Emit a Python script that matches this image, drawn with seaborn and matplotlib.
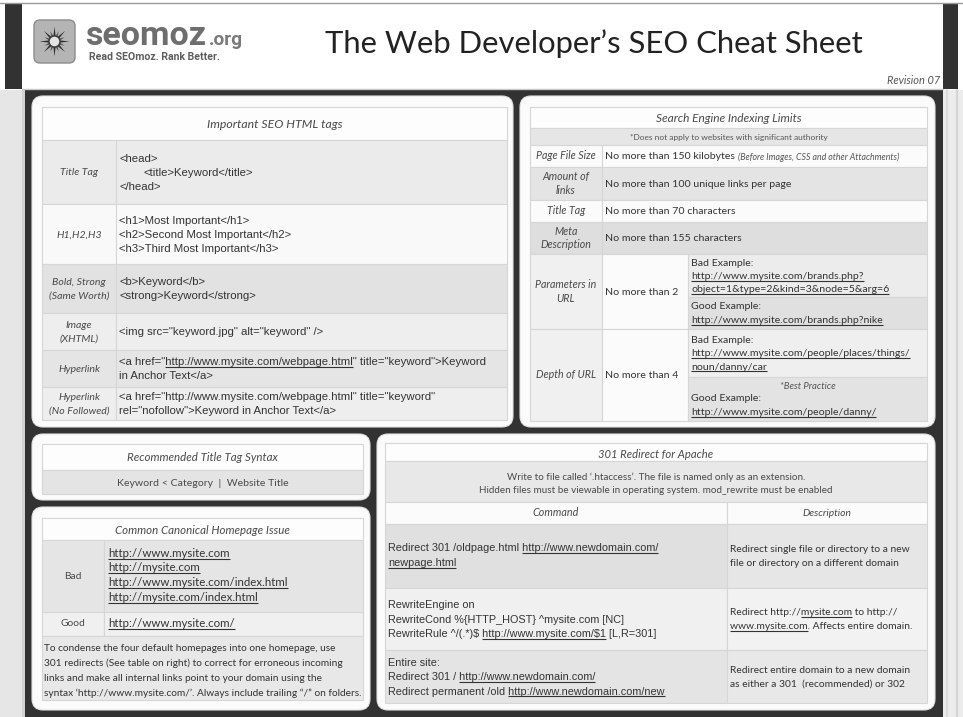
import matplotlib
matplotlib.use("Agg")
import matplotlib.pyplot as plt
from matplotlib.patches import Rectangle, FancyBboxPatch, Polygon, Circle
import numpy as np
import seaborn as sns

W, H = 963, 717

# ---------------- text content ("~" toggles underline) ----------------
page_title = "The Web Developer\u2019s SEO Cheat Sheet"
brand = "seomoz"
brand_tld = ".org"
brand_tagline = "Read SEOmoz. Rank Better."
revision = "Revision 07"

html_tags_title = "Important SEO HTML tags"
html_tag_labels = ["Title Tag", "H1,H2,H3", "Bold, Strong\n(Same Worth)",
                   "Image\n(XHTML)", "Hyperlink", "Hyperlink\n(No Followed)"]
html_tag_code = [
    ["<head>", "\t<title>Keyword</title>", "</head>"],
    ["<h1>Most Important</h1>", "<h2>Second Most Important</h2>",
     "<h3>Third Most Important</h3>"],
    ["<b>Keyword</b>", "<strong>Keyword</strong>"],
    ['<img src="keyword.jpg" alt="keyword" />'],
    ['<a href="~http://www.mysite.com/webpage.html~" title="keyword">Keyword',
     "in Anchor Text</a>"],
    ['<a href="http://www.mysite.com/webpage.html" title="keyword"',
     'rel="nofollow">Keyword in Anchor Text</a>'],
]

index_title = "Search Engine Indexing Limits"
index_note = "*Does not apply to websites with significant authority"
index_labels = ["Page File Size", "Amount of\nlinks", "Title Tag",
                "Meta\nDescription", "Parameters in\nURL", "Depth of URL"]
index_limits = ["No more than 150 kilobytes", "No more than 100 unique links per page",
                "No more than 70 characters", "No more than 155 characters",
                "No more than 2", "No more than 4"]
page_size_note = "(Before Images, CSS and other Attachments)"
param_bad = ["Bad Example:", "~http://www.mysite.com/brands.php?~",
             "~object=1&type=2&kind=3&node=5&arg=6~"]
param_good = ["Good Example:", "~http://www.mysite.com/brands.php?nike~"]
depth_bad = ["Bad Example:", "~http://www.mysite.com/people/places/things/~",
             "~noun/danny/car~"]
depth_good = ["Good Example:", "~http://www.mysite.com/people/danny/~"]
best_practice = "*Best Practice"

syntax_title = "Recommended Title Tag Syntax"
syntax_body = "Keyword < Category  |  Website Title"

canon_title = "Common Canonical Homepage Issue"
canon_bad = ["~http://www.mysite.com~", "~http://mysite.com~",
             "~http://www.mysite.com/index.html~", "~http://mysite.com/index.html~"]
canon_good = ["~http://www.mysite.com/~"]
canon_text = ["To condense the four default homepages into one homepage, use",
              "301 redirects (See table on right) to correct for erroneous incoming",
              "links and make all internal links point to your domain using the",
              "syntax \u2018http://www.mysite.com/\u2019. Always include trailing \u201c/\u201d on folders."]

redirect_title = "301 Redirect for Apache"
redirect_note = ["Write to file called \u2018.htaccess\u2019. The file is named only as an extension.",
                 "Hidden files must be viewable in operating system. mod_rewrite must be enabled"]
redirect_cols = ["Command", "Description"]
redirect_cmds = [
    ["Redirect 301 /oldpage.html ~http://www.newdomain.com/~", "~newpage.html~"],
    ["RewriteEngine on", "RewriteCond %{HTTP_HOST} ^mysite.com [NC]",
     "RewriteRule ^/(.*)$ ~http://www.mysite.com/$1~ [L,R=301]"],
    ["Entire site:", "Redirect 301 / ~http://www.newdomain.com/~",
     "Redirect permanent /old ~http://www.newdomain.com/new~"],
]
redirect_desc = [
    ["Redirect single file or directory to a new", "file or directory on a different domain"],
    ["Redirect http://~mysite.com~ to http://", "~www.mysite.com~. Affects entire domain."],
    ["Redirect entire domain to a new domain", "as either a 301  (recommended) or 302"],
]

# ---------------- style ----------------
sns.set_theme(style="white")
plt.rcParams["font.family"] = ["Lato", "DejaVu Sans"]

DARK = "#323232"
PANEL = "#fbfbfb"
GRID = "#d6d6d6"
INK = "#333333"
SOFT = "#4a4a4a"
CODE = "Liberation Sans"
GILL = "Lato"
PX = 0.72  # pixel size -> points at 100 dpi

fig = plt.figure(figsize=(W / 100, H / 100), dpi=100)
ax = fig.add_axes([0, 0, 1, 1])
ax.set_xlim(0, W)
ax.set_ylim(H, 0)
ax.axis("off")
renderer = fig.canvas.get_renderer()


def txt(x, y, s, size, family=GILL, style="normal", ha="left", va="baseline",
        color=INK, weight="normal"):
    return ax.text(x, y, s, fontsize=size * PX, family=family, style=style, ha=ha,
                   va=va, color=color, weight=weight, parse_math=False)


def adv(s, size, family, style):
    a = txt(0, 0, s + "|", size, family, style)
    b = txt(0, 0, "|", size, family, style)
    w = a.get_window_extent(renderer).width - b.get_window_extent(renderer).width
    a.remove()
    b.remove()
    return w


def rich(x, y, line, size, family=CODE, style="normal", color=INK, ha="left"):
    indent = 0
    if line.startswith("\t"):
        indent = 24
        line = line[1:]
    parts = line.split("~")
    plain = "".join(parts)
    if ha == "center":
        x = x - adv(plain, size, family, style) / 2
    x += indent
    txt(x, y, plain, size, family, style, color=color)
    prefix = ""
    for i, p in enumerate(parts):
        if i % 2 == 1 and p:
            x0 = x + adv(prefix, size, family, style)
            x1 = x + adv(prefix + p, size, family, style)
            ax.plot([x0, x1], [y + 1.8, y + 1.8], color=color, lw=0.8,
                    solid_capstyle="butt")
        prefix += p


def block(x, yc, lines, size, gap, family=CODE, style="normal", color=INK, ha="left"):
    if isinstance(lines, str):
        lines = lines.split("\n")
    n = len(lines)
    for i, ln in enumerate(lines):
        y = yc - (n - 1) * gap / 2 + i * gap + 0.33 * size
        rich(x, y, ln, size, family, style, color, ha)


def cell(x0, y0, x1, y1, color):
    ax.add_patch(Rectangle((x0, y0), x1 - x0, y1 - y0, fc=color, ec=GRID, lw=0.8))


def panel(x0, y0, x1, y1):
    ax.add_patch(FancyBboxPatch((x0, y0), x1 - x0, y1 - y0,
                                boxstyle="round,pad=0,rounding_size=11",
                                fc=PANEL, ec="#e2e2e2", lw=0.8))


# ---------------- page background ----------------
ax.add_patch(Rectangle((0, 0), W, H, fc="white", ec="none"))
ax.add_patch(Rectangle((25, 89.5), 918, H - 89.5, fc=DARK, ec="none"))
ax.add_patch(Rectangle((0, 89.5), 22, H - 89.5, fc="#e6e6e6", ec="none"))
ax.add_patch(Rectangle((22, 89.5), 3, H - 89.5, fc="#d2d2d2", ec="none"))
ax.add_patch(Rectangle((943, 89.5), 20, H - 89.5, fc="#ececec", ec="none"))
for xs, c in [(947, "#dcdcdc"), (957, "#d4d4d4")]:
    ax.plot([xs, xs], [90, H], color=c, lw=1.5)
ax.plot([0, W], [2.5, 2.5], color="#9a9a9a", lw=1)
ax.add_patch(Rectangle((5, 3), 17, 85.5, fc=DARK, ec="none"))
ax.add_patch(Rectangle((943, 3), 15, 85.5, fc=DARK, ec="none"))
ax.plot([22, 943], [88.5, 88.5], color="#c8c8c8", lw=1)

# ---------------- header ----------------
ax.add_patch(FancyBboxPatch((34, 20), 41, 43, boxstyle="round,pad=0,rounding_size=6",
                            fc="#b4b4b4", ec="#8c8c8c", lw=1))
cx, cy = 54.5, 41.5
for k in range(16):
    a0 = 2 * np.pi * k / 16
    a1 = a0 + np.pi / 16
    a2 = a0 - np.pi / 16
    r_in, r_out = 5.5, 15 if k % 2 == 0 else 11
    pts = [(cx + r_in * np.cos(a1), cy + r_in * np.sin(a1)),
           (cx + r_out * np.cos(a0), cy + r_out * np.sin(a0)),
           (cx + r_in * np.cos(a2), cy + r_in * np.sin(a2))]
    ax.add_patch(Polygon(pts, closed=True, fc="#2e2e2e" if k % 2 == 0 else "#5a5a5a",
                         ec="none"))
ax.add_patch(Circle((cx, cy), 5.5, fc="#e4e4e4", ec="#3a3a3a", lw=1))

txt(85, 45, brand, 34, family="Roboto", weight="bold", color="#6e6e6e")
txt(209, 45, brand_tld, 19, family="Roboto", weight="bold", color="#7a7a7a")
txt(89, 60, brand_tagline, 10.5, family="Roboto", weight="bold", color="#5e5e5e")
txt(325, 53, page_title, 31, family=GILL, color="#222222")
txt(940, 84, revision, 11, family=GILL, style="italic", ha="right", color="#555555")

# ---------------- panel 1: important SEO HTML tags ----------------
panel(32, 96, 513, 427)
t1_x0, t1_xm, t1_x1 = 42, 116, 507
cell(t1_x0, 107, t1_x1, 140, "#fdfdfd")
txt((t1_x0 + t1_x1) / 2, 128, html_tags_title, 12.3, style="italic", ha="center", color=SOFT)
rows1 = [140, 204, 264, 313, 350, 387, 420]
fills1 = ["#ebebeb", "#f9f9f9", "#e2e2e2", "#eeeeee", "#e5e5e5", "#eeeeee"]
for i, (lab, code) in enumerate(zip(html_tag_labels, html_tag_code)):
    ya, yb = rows1[i], rows1[i + 1]
    cell(t1_x0, ya, t1_xm, yb, fills1[i])
    cell(t1_xm, ya, t1_x1, yb, fills1[i])
    yc = (ya + yb) / 2
    block((t1_x0 + t1_xm) / 2, yc, lab, 10.5, 14, family=GILL, style="italic",
          color=SOFT, ha="center")
    block(t1_xm + 3, yc, code, 11.4, 14)

# ---------------- panel 2: indexing limits ----------------
panel(520, 96, 935, 427)
t2_x0, t2_xm, t2_xc, t2_x1 = 530, 602, 688, 927
cell(t2_x0, 107, t2_x1, 128, "#fdfdfd")
txt((t2_x0 + t2_x1) / 2, 122, index_title, 11.9, style="italic", ha="center", color=SOFT)
cell(t2_x0, 128, t2_x1, 145, "#e6e6e6")
txt((t2_x0 + t2_x1) / 2, 140, index_note, 8.4, ha="center", color="#555555")
rows2 = [145, 167, 200, 222, 254]
fills2 = ["#fbfbfb", "#e4e4e4", "#fbfbfb", "#dedede"]
for i in range(4):
    ya, yb = rows2[i], rows2[i + 1]
    cell(t2_x0, ya, t2_xm, yb, fills2[i])
    cell(t2_xm, ya, t2_x1, yb, fills2[i])
    yc = (ya + yb) / 2
    block((t2_x0 + t2_xm) / 2, yc, index_labels[i], 10.6, 13.5, family=GILL,
          style="italic", color=SOFT, ha="center")
    block(t2_xm + 3, yc, [index_limits[i]], 10.5, 13, family=GILL)
w_limit = adv(index_limits[0] + " ", 10.5, GILL, "normal")
txt(t2_xm + 3 + w_limit, 157 + 3.2, page_size_note, 8.8, style="italic", color="#555555")

sub_rows = [(254, 297, 329, param_bad, param_good), (329, 377, 421, depth_bad, depth_good)]
for j, (ya, ym, yb, bad, good) in enumerate(sub_rows):
    cell(t2_x0, ya, t2_xm, yb, "#f0f0f0")
    cell(t2_xm, ya, t2_xc, yb, "#fbfbfb")
    cell(t2_xc, ya, t2_x1, ym, "#ececec" if j == 0 else "#efefef")
    cell(t2_xc, ym, t2_x1, yb, "#e0e0e0" if j == 0 else "#e3e3e3")
    yc = (ya + yb) / 2
    block((t2_x0 + t2_xm) / 2, yc, index_labels[4 + j], 10.6, 14.5, family=GILL,
          style="italic", color=SOFT, ha="center")
    block(t2_xm + 3, yc, [index_limits[4 + j]], 10.5, 13, family=GILL)
    block(t2_xc + 3, (ya + ym) / 2, bad, 10.5, 13.2, family=GILL)
    if j == 0:
        block(t2_xc + 3, (ym + yb) / 2, good, 10.5, 14, family=GILL)
    else:
        txt((t2_xc + t2_x1) / 2, 389, best_practice, 9.5, style="italic", ha="center",
            color="#555555")
        block(t2_xc + 3, 405, good, 10.5, 14, family=GILL)

# ---------------- panel 3: title tag syntax ----------------
panel(32, 434, 370, 500)
t3_x0, t3_x1 = 42, 363
cell(t3_x0, 444, t3_x1, 470, "#fdfdfd")
txt((t3_x0 + t3_x1) / 2, 461, syntax_title, 11.5, style="italic", ha="center", color=SOFT)
cell(t3_x0, 470, t3_x1, 494, "#e4e4e4")
txt((t3_x0 + t3_x1) / 2, 485.5, syntax_body, 10.5, ha="center", color=SOFT)

# ---------------- panel 4: canonical homepage ----------------
panel(32, 507, 370, 710)
t4_x0, t4_xm, t4_x1 = 42, 104, 363
cell(t4_x0, 518, t4_x1, 540, "#fdfdfd")
txt((t4_x0 + t4_x1) / 2, 533.5, canon_title, 11.5, style="italic", ha="center", color=SOFT)
cell(t4_x0, 540, t4_xm, 612, "#e5e5e5")
cell(t4_xm, 540, t4_x1, 612, "#e5e5e5")
block((t4_x0 + t4_xm) / 2, 576, ["Bad"], 10.3, 14, family=GILL, color=SOFT, ha="center")
block(t4_xm + 4, 575, canon_bad, 11.5, 14.7, family=GILL)
cell(t4_x0, 612, t4_xm, 636, "#f0f0f0")
cell(t4_xm, 612, t4_x1, 636, "#f0f0f0")
block((t4_x0 + t4_xm) / 2, 623, ["Good"], 10.3, 14, family=GILL, color=SOFT, ha="center")
block(t4_xm + 4, 623, canon_good, 11.5, 14, family=GILL)
cell(t4_x0, 636, t4_x1, 700, "#e8e8e8")
block(t4_x0 + 2, 670, canon_text, 10.1, 15, family=GILL)

# ---------------- panel 5: 301 redirect ----------------
panel(377, 434, 935, 710)
t5_x0, t5_xm, t5_x1 = 385, 727, 927
cell(t5_x0, 443, t5_x1, 461, "#fdfdfd")
txt((t5_x0 + t5_x1) / 2, 457.5, redirect_title, 11.3, style="italic", ha="center", color=SOFT)
cell(t5_x0, 461, t5_x1, 502, "#e8e8e8")
for i, ln in enumerate(redirect_note):
    txt((t5_x0 + t5_x1) / 2, 480 + 13 * i, ln, 9.9, ha="center", color=SOFT)
cell(t5_x0, 502, t5_xm, 524, "#fbfbfb")
cell(t5_xm, 502, t5_x1, 524, "#fbfbfb")
txt((t5_x0 + t5_xm) / 2, 516.5, redirect_cols[0], 10.8, style="italic", ha="center", color=SOFT)
txt((t5_xm + t5_x1) / 2, 516.5, redirect_cols[1], 10.3, style="italic", ha="center", color=SOFT)
rows5 = [524, 588, 650, 703]
fills5 = [("#e0e0e0", "#e6e6e6"), ("#f0f0f0", "#f2f2f2"), ("#e4e4e4", "#e8e8e8")]
for i in range(3):
    ya, yb = rows5[i], rows5[i + 1]
    cell(t5_x0, ya, t5_xm, yb, fills5[i][0])
    cell(t5_xm, ya, t5_x1, yb, fills5[i][1])
    yc = (ya + yb) / 2
    block(t5_x0 + 3, yc - (1 if i == 0 else 0), redirect_cmds[i], 10.9, 14.5)
    block(t5_xm + 3, yc, redirect_desc[i], 10.2, 14, family=GILL)

fig.savefig("out.png", dpi=100)
